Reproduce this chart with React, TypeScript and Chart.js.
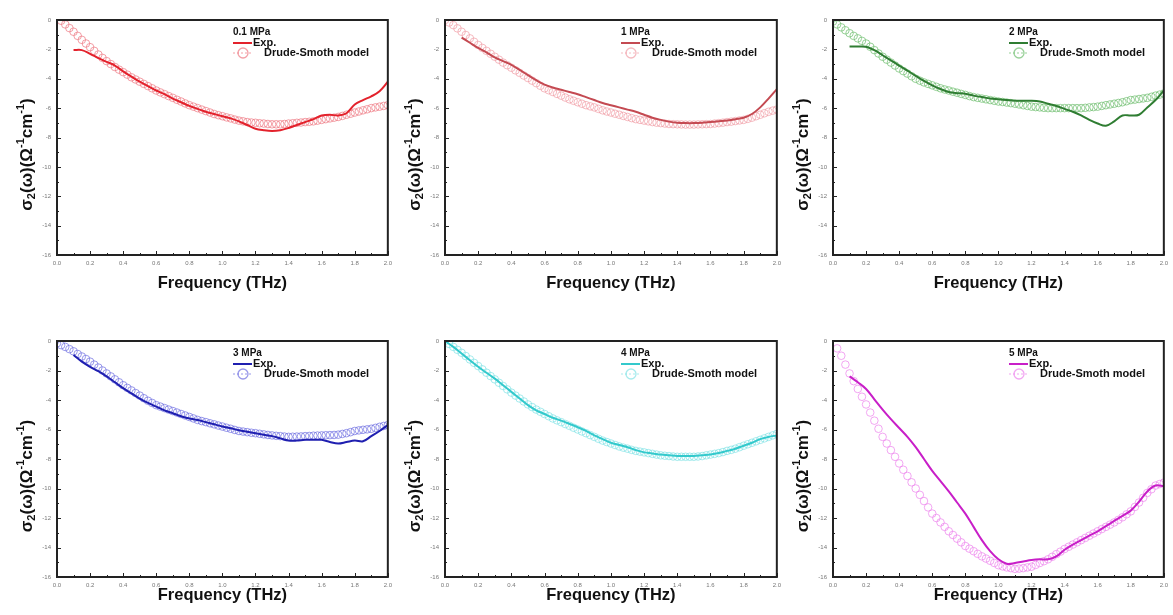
import React, { useEffect, useRef } from "react";
import { Chart, registerables } from "chart.js";

Chart.register(...registerables);

// ---------- data ----------
const FREQ = [0, 0.05, 0.1, 0.15, 0.2, 0.25, 0.3, 0.35, 0.4, 0.45, 0.5, 0.55, 0.6, 0.65, 0.7, 0.75, 0.8, 0.85, 0.9, 0.95, 1.0, 1.05, 1.1, 1.15, 1.2, 1.25, 1.3, 1.35, 1.4, 1.45, 1.5, 1.55, 1.6, 1.65, 1.7, 1.75, 1.8, 1.85, 1.9, 1.95, 2.0];

const MODEL_FREQ = [
  0, 0.025, 0.05, 0.075, 0.1, 0.125, 0.15, 0.175, 0.2, 0.225,
  0.25, 0.275, 0.3, 0.325, 0.35, 0.375, 0.4, 0.425, 0.45, 0.475,
  0.5, 0.525, 0.55, 0.575, 0.6, 0.625, 0.65, 0.675, 0.7, 0.725,
  0.75, 0.775, 0.8, 0.825, 0.85, 0.875, 0.9, 0.925, 0.95, 0.975,
  1.0, 1.025, 1.05, 1.075, 1.1, 1.125, 1.15, 1.175, 1.2, 1.225,
  1.25, 1.275, 1.3, 1.325, 1.35, 1.375, 1.4, 1.425, 1.45, 1.475,
  1.5, 1.525, 1.55, 1.575, 1.6, 1.625, 1.65, 1.675, 1.7, 1.725,
  1.75, 1.775, 1.8, 1.825, 1.85, 1.875, 1.9, 1.925, 1.95, 1.975,
  2.0,
];

const PANEL_TITLES = ["0.1 MPa", "1 MPa", "2 MPa", "3 MPa", "4 MPa", "5 MPa"];
const SERIES_NAMES = ["Exp.", "Drude-Smoth model"];
const X_TITLE = "Frequency (THz)";

const EXP_01 = [null, null, -2.05, -2.05, -2.3, -2.6, -2.85, -3.1, -3.5, -3.85, -4.2, -4.5, -4.8, -5.05, -5.35, -5.6, -5.85, -6.05, -6.25, -6.4, -6.55, -6.7, -6.9, -7.15, -7.4, -7.5, -7.55, -7.5, -7.35, -7.15, -6.95, -6.75, -6.5, -6.45, -6.5, -6.35, -5.75, -5.45, -5.2, -4.85, -4.2];
const MODEL_01 = [
  null, -0.05, -0.3, -0.55, -0.8, -1.08, -1.35, -1.6, -1.85, -2.1,
  -2.35, -2.58, -2.8, -3.0, -3.2, -3.38, -3.55, -3.72, -3.9, -4.05,
  -4.2, -4.35, -4.5, -4.65, -4.8, -4.93, -5.05, -5.18, -5.3, -5.43,
  -5.55, -5.68, -5.8, -5.9, -6.0, -6.1, -6.2, -6.3, -6.4, -6.48,
  -6.55, -6.63, -6.7, -6.78, -6.85, -6.9, -6.95, -6.98, -7.0, -7.03,
  -7.05, -7.08, -7.1, -7.1, -7.1, -7.08, -7.05, -7.03, -7.0, -6.98,
  -6.95, -6.93, -6.9, -6.85, -6.8, -6.75, -6.7, -6.65, -6.6, -6.53,
  -6.45, -6.38, -6.3, -6.23, -6.15, -6.08, -6.0, -5.95, -5.9, -5.85,
  -5.8,
];

const EXP_1 = [null, null, -1.2, -1.55, -1.9, -2.2, -2.55, -2.8, -3.05, -3.4, -3.75, -4.1, -4.4, -4.6, -4.75, -4.9, -5.05, -5.25, -5.45, -5.65, -5.8, -5.95, -6.1, -6.25, -6.45, -6.65, -6.8, -6.92, -7.0, -7.02, -7.02, -7.0, -6.95, -6.9, -6.85, -6.75, -6.65, -6.4, -5.95, -5.35, -4.7];
const MODEL_1 = [
  0, -0.17, -0.35, -0.57, -0.8, -1.02, -1.25, -1.48, -1.7, -1.9,
  -2.1, -2.3, -2.5, -2.7, -2.9, -3.08, -3.25, -3.43, -3.6, -3.78,
  -3.95, -4.13, -4.3, -4.48, -4.65, -4.78, -4.9, -5.03, -5.15, -5.28,
  -5.4, -5.5, -5.6, -5.7, -5.8, -5.88, -5.95, -6.05, -6.15, -6.23,
  -6.3, -6.38, -6.45, -6.53, -6.6, -6.68, -6.75, -6.8, -6.85, -6.9,
  -6.95, -6.99, -7.02, -7.05, -7.08, -7.09, -7.1, -7.11, -7.12, -7.12,
  -7.12, -7.11, -7.1, -7.09, -7.08, -7.05, -7.02, -6.99, -6.95, -6.92,
  -6.88, -6.84, -6.8, -6.73, -6.65, -6.55, -6.45, -6.35, -6.25, -6.17,
  -6.1,
];

const EXP_2 = [null, null, -1.8, -1.8, -1.82, -2.05, -2.4, -2.75, -3.1, -3.45, -3.8, -4.15, -4.45, -4.7, -4.9, -4.98, -5.02, -5.15, -5.25, -5.35, -5.4, -5.45, -5.5, -5.5, -5.5, -5.55, -5.7, -5.85, -6.05, -6.25, -6.5, -6.8, -7.05, -7.2, -6.9, -6.5, -6.5, -6.45, -5.95, -5.45, -4.8];
const MODEL_2 = [
  -0.1, -0.3, -0.5, -0.7, -0.9, -1.08, -1.25, -1.42, -1.6, -1.82,
  -2.05, -2.28, -2.5, -2.7, -2.9, -3.1, -3.3, -3.48, -3.65, -3.83,
  -4.0, -4.13, -4.25, -4.35, -4.45, -4.55, -4.65, -4.73, -4.8, -4.88,
  -4.95, -5.03, -5.1, -5.18, -5.25, -5.3, -5.35, -5.4, -5.45, -5.5,
  -5.55, -5.58, -5.62, -5.66, -5.7, -5.75, -5.8, -5.85, -5.9, -5.93,
  -5.95, -5.98, -6.0, -6.0, -6.0, -6.0, -6.0, -6.0, -6.0, -6.0,
  -6.0, -5.98, -5.95, -5.93, -5.9, -5.85, -5.8, -5.75, -5.7, -5.65,
  -5.6, -5.53, -5.45, -5.42, -5.38, -5.34, -5.3, -5.23, -5.15, -5.08,
  -5.0,
];

const EXP_3 = [null, null, -0.95, -1.4, -1.75, -2.05, -2.4, -2.8, -3.2, -3.55, -3.9, -4.2, -4.45, -4.7, -4.9, -5.1, -5.25, -5.35, -5.5, -5.65, -5.8, -5.92, -6.05, -6.15, -6.25, -6.35, -6.45, -6.6, -6.75, -6.75, -6.7, -6.7, -6.7, -6.85, -6.95, -6.85, -6.75, -6.8, -6.45, -6.1, -5.7];
const MODEL_3 = [
  -0.15, -0.28, -0.4, -0.55, -0.7, -0.88, -1.05, -1.22, -1.4, -1.6,
  -1.8, -2.0, -2.2, -2.4, -2.6, -2.8, -3.0, -3.18, -3.35, -3.53,
  -3.7, -3.88, -4.05, -4.2, -4.35, -4.45, -4.55, -4.65, -4.75, -4.85,
  -4.95, -5.05, -5.15, -5.25, -5.35, -5.43, -5.5, -5.58, -5.65, -5.73,
  -5.8, -5.88, -5.95, -6.03, -6.1, -6.14, -6.18, -6.22, -6.25, -6.29,
  -6.33, -6.37, -6.4, -6.43, -6.45, -6.48, -6.5, -6.49, -6.48, -6.47,
  -6.45, -6.44, -6.42, -6.41, -6.4, -6.39, -6.38, -6.37, -6.35, -6.3,
  -6.25, -6.18, -6.1, -6.06, -6.02, -5.99, -5.95, -5.89, -5.82, -5.76,
  -5.7,
];

const EXP_4 = [0, -0.4, -0.85, -1.3, -1.75, -2.15, -2.55, -3.0, -3.45, -3.9, -4.35, -4.7, -4.95, -5.2, -5.4, -5.62, -5.85, -6.1, -6.4, -6.65, -6.9, -7.05, -7.2, -7.4, -7.55, -7.62, -7.7, -7.75, -7.8, -7.8, -7.8, -7.75, -7.7, -7.6, -7.45, -7.3, -7.1, -6.9, -6.65, -6.5, -6.4];
const MODEL_4 = [
  0, -0.2, -0.4, -0.6, -0.8, -1.02, -1.25, -1.48, -1.7, -1.92,
  -2.15, -2.38, -2.6, -2.83, -3.05, -3.28, -3.5, -3.7, -3.9, -4.1,
  -4.3, -4.48, -4.65, -4.8, -4.95, -5.1, -5.25, -5.38, -5.5, -5.63,
  -5.75, -5.88, -6.0, -6.13, -6.25, -6.38, -6.5, -6.63, -6.75, -6.85,
  -6.95, -7.05, -7.15, -7.23, -7.3, -7.38, -7.45, -7.5, -7.55, -7.6,
  -7.65, -7.7, -7.75, -7.78, -7.8, -7.83, -7.85, -7.85, -7.85, -7.85,
  -7.85, -7.83, -7.8, -7.75, -7.7, -7.65, -7.6, -7.53, -7.45, -7.38,
  -7.3, -7.2, -7.1, -7.0, -6.9, -6.8, -6.7, -6.6, -6.5, -6.4,
  -6.3,
];

const EXP_5 = [null, null, -2.4, -2.8, -3.25, -3.95, -4.65, -5.3, -5.9, -6.5, -7.2, -8.0, -8.8, -9.5, -10.2, -10.95, -11.7, -12.6, -13.5, -14.25, -14.8, -15.1, -15.05, -14.95, -14.85, -14.8, -14.8, -14.6, -14.15, -13.8, -13.5, -13.2, -12.9, -12.55, -12.2, -11.85, -11.5, -10.9, -10.2, -9.8, -9.85];
const MODEL_5 = [
  null, -0.5, -1.0, -1.6, -2.2, -2.72, -3.25, -3.78, -4.3, -4.85,
  -5.4, -5.95, -6.5, -6.95, -7.4, -7.85, -8.3, -8.73, -9.15, -9.58,
  -10.0, -10.43, -10.85, -11.28, -11.7, -12.0, -12.3, -12.6, -12.9, -13.15,
  -13.4, -13.65, -13.9, -14.08, -14.25, -14.43, -14.6, -14.75, -14.9, -15.05,
  -15.2, -15.28, -15.35, -15.4, -15.45, -15.43, -15.4, -15.35, -15.3, -15.18,
  -15.05, -14.93, -14.8, -14.63, -14.45, -14.28, -14.1, -13.95, -13.8, -13.65,
  -13.5, -13.35, -13.2, -13.05, -12.9, -12.75, -12.6, -12.45, -12.3, -12.13,
  -11.95, -11.75, -11.55, -11.25, -10.95, -10.63, -10.3, -10.05, -9.8, -9.7,
  -9.6,
];

const EXP_COLORS = ["#e3222c", "#c44a52", "#2f7d32", "#1f1fb0", "#33c9cc", "#c81fc8"];
const MODEL_COLORS = ["rgba(238,120,130,0.7)", "rgba(240,150,160,0.65)", "rgba(110,190,110,0.7)", "rgba(110,110,225,0.7)", "rgba(120,225,228,0.65)", "rgba(236,130,236,0.7)"];

const EXP_SERIES = [EXP_01, EXP_1, EXP_2, EXP_3, EXP_4, EXP_5];
const MODEL_SERIES = [MODEL_01, MODEL_1, MODEL_2, MODEL_3, MODEL_4, MODEL_5];

// ---------- layout ----------
const PLOT_LEFT = [57, 445, 833];
const PLOT_RIGHT = [392, 781, 1168];
const ROW_CANVAS_TOP = [0, 315];
const ROW_CANVAS_H = [310, 300];
const ROW_PLOT_TOP = [20, 341];
const ROW_PLOT_BOTTOM = [255, 577];
const ROW_XTITLE_PAD = [17, 10];
const Y_AXIS_W = 57;
const FONT = "'Liberation Sans', Arial, sans-serif";

function toPoints(xs: number[], arr: (number | null)[]) {
  const out: { x: number; y: number }[] = [];
  arr.forEach((v, i) => {
    if (v !== null) out.push({ x: xs[i], y: v });
  });
  return out;
}

function drawRichYTitle(ctx: CanvasRenderingContext2D, cx: number, cy: number) {
  const big = `bold 17px ${FONT}`;
  const small = `bold 11px ${FONT}`;
  const segs: [string, string, number][] = [
    ["σ", big, 0],
    ["2", small, 5],
    ["(ω)(Ω", big, 0],
    ["-1", small, -6],
    ["cm", big, 0],
    ["-1", small, -6],
    [")", big, 0],
  ];
  let total = 0;
  for (const [t, f] of segs) {
    ctx.font = f;
    total += ctx.measureText(t).width;
  }
  ctx.save();
  ctx.translate(cx, cy);
  ctx.rotate(-Math.PI / 2);
  ctx.fillStyle = "#111";
  ctx.textBaseline = "middle";
  ctx.textAlign = "left";
  let x = -total / 2;
  for (const [t, f, dy] of segs) {
    ctx.font = f;
    ctx.fillText(t, x, dy);
    x += ctx.measureText(t).width;
  }
  ctx.restore();
}

function makeDecor(idx: number) {
  return {
    id: "decor" + idx,
    afterDatasetsDraw(chart: any) {
      const { ctx, chartArea: a, scales } = chart;
      const xs = scales.x;
      const ys = scales.y;
      ctx.save();
      // inward ticks
      ctx.strokeStyle = "#222";
      ctx.lineWidth = 1;
      for (let i = 0; i <= 20; i++) {
        const px = Math.round(xs.getPixelForValue(i / 10)) + 0.5;
        const len = i % 2 === 0 ? 4 : 2;
        ctx.beginPath();
        ctx.moveTo(px, a.bottom);
        ctx.lineTo(px, a.bottom - len);
        ctx.stroke();
      }
      for (let i = 0; i <= 16; i++) {
        const py = Math.round(ys.getPixelForValue(-i)) + 0.5;
        const len = i % 2 === 0 ? 4 : 2;
        ctx.beginPath();
        ctx.moveTo(a.left, py);
        ctx.lineTo(a.left + len, py);
        ctx.stroke();
      }
      // frame
      ctx.lineWidth = 2;
      ctx.strokeStyle = "#222";
      ctx.strokeRect(a.left, a.top, a.right - a.left, a.bottom - a.top);

      // legend
      const lx = a.left + 176;
      const ty = a.top + 12;
      ctx.fillStyle = "#111";
      ctx.textBaseline = "middle";
      ctx.textAlign = "left";
      ctx.font = `bold 10px ${FONT}`;
      ctx.fillText(PANEL_TITLES[idx], lx, ty);
      ctx.strokeStyle = EXP_COLORS[idx];
      ctx.lineWidth = 2;
      ctx.beginPath();
      ctx.moveTo(lx, ty + 11);
      ctx.lineTo(lx + 19, ty + 11);
      ctx.stroke();
      ctx.font = `bold 11px ${FONT}`;
      ctx.fillText(SERIES_NAMES[0], lx + 20, ty + 11);
      ctx.strokeStyle = MODEL_COLORS[idx];
      ctx.lineWidth = 1;
      ctx.setLineDash([2, 2]);
      ctx.beginPath();
      ctx.moveTo(lx, ty + 21);
      ctx.lineTo(lx + 20, ty + 21);
      ctx.stroke();
      ctx.setLineDash([]);
      ctx.lineWidth = 1.3;
      ctx.beginPath();
      ctx.arc(lx + 10, ty + 21, 5, 0, Math.PI * 2);
      ctx.stroke();
      ctx.fillText(SERIES_NAMES[1], lx + 31, ty + 21);

      // y title
      drawRichYTitle(ctx, a.left - 30, (a.top + a.bottom) / 2 + 17);
      ctx.restore();
    },
  };
}

function PanelChart({ idx }: { idx: number }) {
  const ref = useRef<HTMLCanvasElement>(null);
  const col = idx % 3;
  const row = Math.floor(idx / 3);
  const left = PLOT_LEFT[col] - Y_AXIS_W;
  const width = PLOT_RIGHT[col] + 5 - left;
  const top = ROW_CANVAS_TOP[row];
  const height = ROW_CANVAS_H[row];
  const padTop = ROW_PLOT_TOP[row] - top;
  const xAxisH = top + height - ROW_PLOT_BOTTOM[row];

  useEffect(() => {
    if (!ref.current) return;
    const chart = new Chart(ref.current, {
      type: "line",
      data: {
        datasets: [
          {
            label: SERIES_NAMES[0],
            data: toPoints(FREQ, EXP_SERIES[idx]),
            borderColor: EXP_COLORS[idx],
            borderWidth: 2,
            pointRadius: 0,
            tension: 0.35,
            fill: false,
            order: 0,
          },
          {
            label: SERIES_NAMES[1],
            data: toPoints(MODEL_FREQ, MODEL_SERIES[idx]),
            showLine: false,
            pointStyle: "circle",
            pointRadius: 3.8,
            pointBorderWidth: 1,
            pointBorderColor: MODEL_COLORS[idx],
            pointBackgroundColor: "rgba(255,255,255,0)",
            borderColor: MODEL_COLORS[idx],
            order: 1,
          },
        ],
      },
      options: {
        responsive: false,
        animation: false,
        layout: { padding: { left: 0, top: padTop, right: 5, bottom: 0 } },
        plugins: { legend: { display: false }, tooltip: { enabled: false } },
        scales: {
          x: {
            type: "linear",
            min: 0,
            max: 2,
            grid: { display: false, drawTicks: false },
            border: { display: false },
            ticks: {
              stepSize: 0.2,
              autoSkip: false,
              maxRotation: 0,
              padding: 5,
              color: "#777",
              font: { size: 6, family: FONT },
              callback: (v: any) => Number(v).toFixed(1),
            },
            title: {
              display: true,
              text: X_TITLE,
              color: "#111",
              font: { size: 16.5, weight: "bold", family: FONT },
              padding: { top: 0, bottom: ROW_XTITLE_PAD[row] },
            },
            afterFit: (s: any) => {
              s.height = xAxisH;
            },
          },
          y: {
            type: "linear",
            min: -16,
            max: 0,
            grid: { display: false, drawTicks: false },
            border: { display: false },
            ticks: {
              stepSize: 2,
              padding: 6,
              color: "#777",
              font: { size: 6, family: FONT },
              callback: (v: any) => String(v),
            },
            afterFit: (s: any) => {
              s.width = Y_AXIS_W;
            },
          },
        },
      },
      plugins: [makeDecor(idx)],
    } as any);
    return () => chart.destroy();
  }, []);

  return (
    <canvas
      ref={ref}
      width={width}
      height={height}
      style={{ position: "absolute", left, top, width, height }}
    />
  );
}

export default function App() {
  return (
    <div
      style={{
        position: "absolute",
        left: 0,
        top: 0,
        width: 1173,
        height: 615,
        background: "#fff",
        overflow: "hidden",
      }}
    >
      {PANEL_TITLES.map((_, i) => (
        <PanelChart key={i} idx={i} />
      ))}
    </div>
  );
}
